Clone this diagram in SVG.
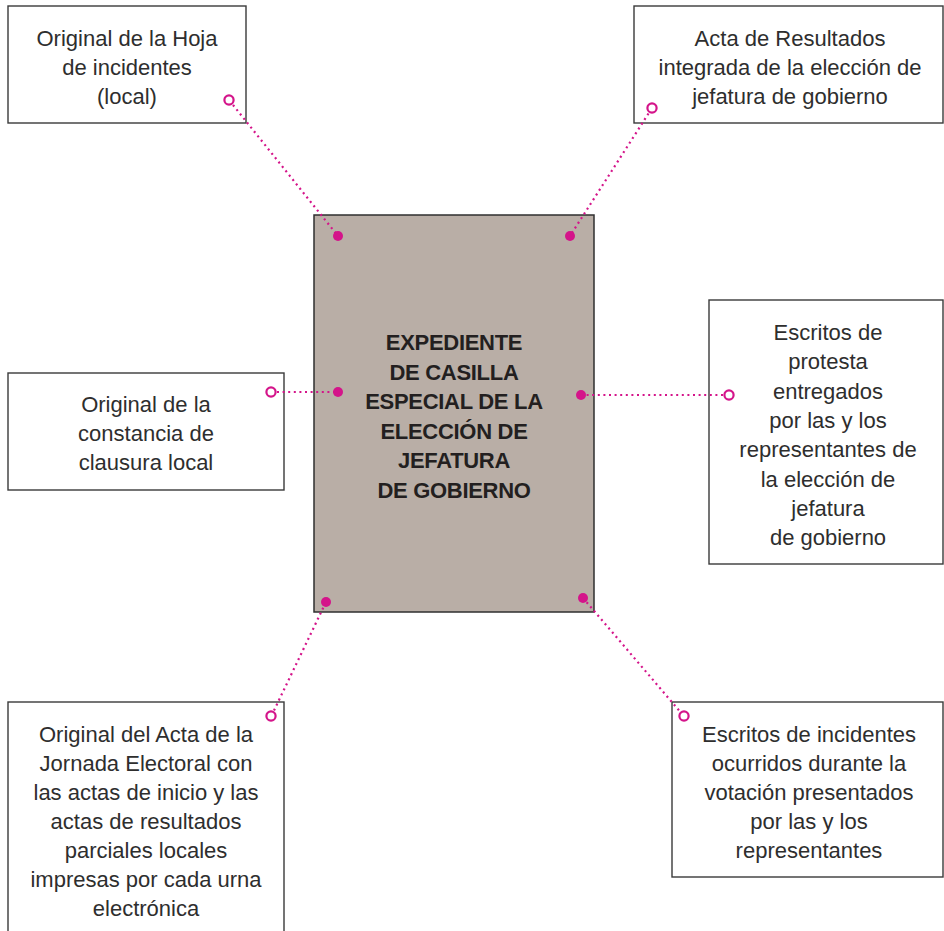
<svg xmlns="http://www.w3.org/2000/svg" width="944" height="931" viewBox="0 0 944 931">
<style>
.box{fill:#fff;stroke:#3a3a3a;stroke-width:1.4}
.main{fill:#b9aea6;stroke:#2f2f2f;stroke-width:1.5}
.t{font-family:"Liberation Sans",Arial,sans-serif;font-size:22px;fill:#2e2e2e;text-anchor:middle}
.b{font-family:"Liberation Sans",Arial,sans-serif;font-size:22px;font-weight:bold;fill:#231f20;text-anchor:middle;letter-spacing:-0.3px}
.dl{stroke:#d4148a;stroke-width:2.2;stroke-dasharray:2 3.6;fill:none}
.ring{fill:#fff;stroke:#d4148a;stroke-width:2.2}
.dot{fill:#d4148a}
</style>
<rect width="944" height="931" fill="#fff"/>
<g id="expediente">
<rect class="main" x="314" y="215" width="280" height="397"/>
<text class="b" x="454"><tspan x="454" y="350">EXPEDIENTE</tspan><tspan x="454" y="379.5">DE CASILLA</tspan><tspan x="454" y="409">ESPECIAL DE LA</tspan><tspan x="454" y="438.5">ELECCIÓN DE</tspan><tspan x="454" y="468">JEFATURA</tspan><tspan x="454" y="497.5">DE GOBIERNO</tspan></text>
</g>
<g id="hoja-incidentes">
<rect class="box" x="8" y="6" width="238" height="117"/>
<text class="t"><tspan x="127" y="45.5">Original de la Hoja</tspan><tspan x="127" y="74.5">de incidentes</tspan><tspan x="127" y="103.5">(local)</tspan></text>
</g>
<g id="acta-resultados">
<rect class="box" x="634" y="6" width="309" height="117"/>
<text class="t"><tspan x="790" y="45.5">Acta de Resultados</tspan><tspan x="790" y="74.5">integrada de la elección de</tspan><tspan x="790" y="103.5">jefatura de gobierno</tspan></text>
</g>
<g id="constancia-clausura">
<rect class="box" x="8" y="373" width="276" height="117"/>
<text class="t"><tspan x="146" y="411.5">Original de la</tspan><tspan x="146" y="440.5">constancia de</tspan><tspan x="146" y="469.5">clausura local</tspan></text>
</g>
<g id="escritos-protesta">
<rect class="box" x="709" y="300" width="234" height="264"/>
<text class="t"><tspan x="828" y="340">Escritos de</tspan><tspan x="828" y="369.3">protesta</tspan><tspan x="828" y="398.6">entregados</tspan><tspan x="828" y="427.9">por las y los</tspan><tspan x="828" y="457.2">representantes de</tspan><tspan x="828" y="486.5">la elección de</tspan><tspan x="828" y="515.8">jefatura</tspan><tspan x="828" y="545.1">de gobierno</tspan></text>
</g>
<g id="acta-jornada">
<rect class="box" x="8" y="702" width="276" height="240"/>
<text class="t"><tspan x="146" y="741.5">Original del Acta de la</tspan><tspan x="146" y="770.5">Jornada Electoral con</tspan><tspan x="146" y="799.5">las actas de inicio y las</tspan><tspan x="146" y="828.5">actas de resultados</tspan><tspan x="146" y="857.5">parciales locales</tspan><tspan x="146" y="886.5">impresas por cada urna</tspan><tspan x="146" y="915.5">electrónica</tspan></text>
</g>
<g id="escritos-incidentes">
<rect class="box" x="672" y="702" width="271" height="175"/>
<text class="t"><tspan x="809" y="741.5">Escritos de incidentes</tspan><tspan x="809" y="770.5">ocurridos durante la</tspan><tspan x="809" y="799.5">votación presentados</tspan><tspan x="809" y="828.5">por las y los</tspan><tspan x="809" y="857.5">representantes</tspan></text>
</g>
<g id="connectors">
<line class="dl" x1="233" y1="105" x2="338" y2="236"/>
<line class="dl" x1="648.5" y1="113.5" x2="570" y2="236"/>
<line class="dl" x1="277" y1="392" x2="338" y2="392"/>
<line class="dl" x1="581" y1="395" x2="723" y2="395"/>
<line class="dl" x1="274" y1="710.5" x2="326" y2="602"/>
<line class="dl" x1="583" y1="598" x2="680" y2="711.5"/>
<circle class="dot" cx="338" cy="236" r="5"/>
<circle class="dot" cx="570" cy="236" r="5"/>
<circle class="dot" cx="338" cy="392" r="5"/>
<circle class="dot" cx="581" cy="395" r="5"/>
<circle class="dot" cx="326" cy="602" r="5"/>
<circle class="dot" cx="583" cy="598" r="5"/>
<circle class="ring" cx="229" cy="100" r="4.6"/>
<circle class="ring" cx="652" cy="108" r="4.6"/>
<circle class="ring" cx="271" cy="392" r="4.6"/>
<circle class="ring" cx="729" cy="395" r="4.6"/>
<circle class="ring" cx="271" cy="716" r="4.6"/>
<circle class="ring" cx="684" cy="716" r="4.6"/>
</g>
</svg>
